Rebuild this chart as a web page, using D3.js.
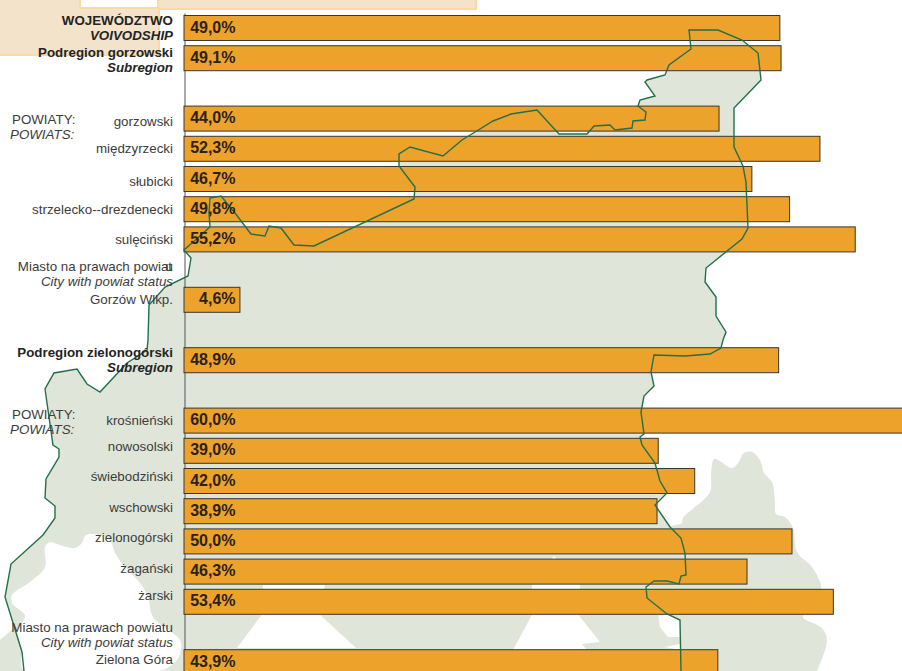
<!DOCTYPE html>
<html>
<head>
<meta charset="utf-8">
<script src="https://cdnjs.cloudflare.com/ajax/libs/d3/7.8.5/d3.min.js"></script>
<style>
html,body{margin:0;padding:0;background:#fff;overflow:hidden}
svg{display:block}
text{font-family:"Liberation Sans",Arial,sans-serif}
</style>
</head>
<body>
<svg id="c" width="902" height="671"></svg>
<script>
// ---- data ----
const rowPositions = [0,1,3,4,5,6,7,9,11,13,14,15,16,17,18,19,21];
const rowValues = [49.0,49.1,44.0,52.3,46.7,49.8,55.2,4.6,48.9,60.0,39.0,42.0,38.9,50.0,46.3,53.4,43.9];
const rowNames = ["WOJEWÓDZTWO","Podregion gorzowski","gorzowski","międzyrzecki","słubicki","strzelecko--drezdenecki","sulęciński","Gorzów Wlkp.","Podregion zielonogórski","krośnieński","nowosolski","świebodziński","wschowski","zielonogórski","żagański","żarski","Zielona Góra"];
const rowNameStyle = ["bold","bold","","","","","","","bold","","","","","","","",""];

// ---- layout of the text labels (baselines) ----
const nameBaselines = [25,57,126,153,186,213.5,244,303.5,357,425,451,481,512,542,573,600,664];
const extraLabels = [
  {t:"VOIVODSHIP",y:40,s:"bolditalic"},
  {t:"Subregion",y:72,s:"bolditalic"},
  {t:"City with powiat status",y:286,s:"italic"},
  {t:"Subregion",y:372,s:"bolditalic"},
  {t:"Miasto na prawach powiatu",y:632,s:""},
  {t:"City with powiat status",y:647,s:"italic"}
];
const sideLabels = [
  {t:"POWIATY:",x:12,y:124,s:""},
  {t:"POWIATS:",x:10,y:139,s:"italic"},
  {t:"POWIATY:",x:12,y:419,s:""},
  {t:"POWIATS:",x:10,y:434,s:"italic"}
];

// ---- background map geometry (traced decoration) ----
const outlineLeft = [[24,671],[22,652],[5,597],[11,564],[43,535],[55,518],[55,506],[45,498],[46,479],[59,457],[59,449],[53,445],[45,389],[54,373],[77,369],[87,384],[100,392],[127,363],[147,350],[148,340],[149,305],[165,287],[188,276],[191,258],[184,250]];
const outlineRight = [[210,227],[209,213],[210,198],[221,196],[235,213],[251,234],[265,236],[269,226],[281,228],[294,245],[314,246],[414,199],[415,187],[399,166],[399,154],[410,147],[443,156],[462,140],[480,129],[493,121],[511,114],[537,110],[559,134],[587,134],[594,126],[610,125],[615,130],[632,128],[633,121],[645,120],[646,112],[638,106],[640,100],[655,96],[645,82],[647,80],[665,75],[669,65],[691,49],[689,30],[718,30],[742,40],[758,53],[761,80],[734,108],[734,147],[743,166],[746,182],[748,228],[742,239],[706,268],[705,282],[716,297],[716,316],[726,332],[723,340],[721,348],[710,354],[685,356],[654,355],[651,372],[654,386],[644,396],[641,412],[644,434],[640,437],[642,445],[655,463],[660,481],[667,493],[655,505],[670,527],[681,538],[685,553],[686,575],[681,576],[679,584],[667,581],[654,581],[646,587],[647,598],[667,614],[680,620],[681,671]];
const outline = outlineLeft.concat(outlineRight);
const rightLobe = [[640,671],[640,560],[670,527],[682,523],[683,518],[710,492],[711,473],[714,459],[718,460],[732,468],[738,463],[744,453],[752,452],[760,460],[764,473],[772,482],[775,500],[776,514],[785,517],[793,528],[797,552],[812,567],[820,582],[821,588],[815,605],[803,617],[822,628],[827,640],[817,671]];
const leftPatch = [[0,640],[14,628],[22,652],[24,671],[0,671]];
const whiteBlob = [[16,630],[25,616],[12,603],[12,595],[30,582],[45,567],[45,547],[50,542],[60,545],[75,548],[82,543],[86,535],[100,535],[110,540],[115,553],[125,567],[140,583],[148,597],[153,617],[180,640],[181,650],[177,660],[160,671],[24,671],[22,652]];
const whiteTriA = [[263,585],[325,585],[318,613],[356,648],[237,648],[263,613]];
const whiteTriB = [[554,556],[580,585],[577,613],[600,642],[582,644],[587,650],[513,650],[533,613],[532,585]];
const whiteSlim = [[658,613],[660,627],[668,637],[680,637],[680,620],[667,614]];
const whiteStrip = [[665,647],[680,644],[680,650]];

const peachTop = [[-3,-3],[80,-3],[80,8],[158,8],[158,-3],[476,-3],[476,9],[159,9],[159,55],[-3,55]];
const whiteBox = [[83,0],[157,0],[157,7],[83,7]];

// ---- scales ----
const x = d3.scaleLinear().domain([0,60]).range([184,184+729.6]);
const y = d3.scaleLinear().domain([0,21]).range([15.5,649.7]);
const barH = 25;
const fmt = d3.formatLocale({decimal:",",thousands:" ",grouping:[3],currency:["","%"]}).format(".1f");
const svg = d3.select("#c");
const poly = d3.line();
const smooth = d3.line().curve(d3.curveCatmullRom.alpha(0.5));
const GREEN_BG="#dfe6d9", PEACH="#f3e3ca", PEACH_B="#fcd9a3", TXT="#3c3c3c", DARK="#242424";

// ---- backdrop ----
svg.append("path").attr("d",poly(peachTop)+"Z").attr("fill",PEACH).attr("stroke",PEACH_B).attr("stroke-width",2);
svg.append("path").attr("d",poly(whiteBox)+"Z").attr("fill","#fff");
svg.append("path").attr("d",smooth(rightLobe)+"Z").attr("fill",GREEN_BG);
svg.append("path").attr("d",poly(outline)+"Z").attr("fill",GREEN_BG);
svg.append("path").attr("d",poly(leftPatch)+"Z").attr("fill",GREEN_BG);
svg.append("path").attr("d",smooth(whiteBlob)+"Z").attr("fill","#fff");
[whiteTriA,whiteTriB,whiteSlim,whiteStrip].forEach(p=>svg.append("path").attr("d",poly(p)+"Z").attr("fill","#fff"));

// ---- axis ----
const axisScale = d3.scaleLinear().domain([0,1]).range([13,671]);
const ax = svg.append("g").attr("transform","translate(184.5,0)").call(d3.axisLeft(axisScale).tickValues([]).tickSize(0));
ax.select(".domain").attr("stroke","#555").attr("stroke-width",1);

// ---- bars ----
const rows = rowValues.map((v,i)=>({v,pos:rowPositions[i],name:rowNames[i],st:rowNameStyle[i],base:nameBaselines[i]}));
svg.append("g").selectAll("rect").data(rows).join("rect")
  .attr("x",x(0)).attr("y",d=>y(d.pos)).attr("width",d=>x(d.v)-x(0)).attr("height",barH)
  .attr("fill","#eda22c").attr("stroke","#3a3630").attr("stroke-width",1);

// ---- map border ----
svg.append("path").attr("d",poly(outline)).attr("fill","none").attr("stroke","#22704a").attr("stroke-width",1.4);

// ---- labels ----
function styleText(sel,s){
  sel.attr("font-weight",s.includes("bold")?"bold":"normal")
     .attr("font-style",s.includes("italic")?"italic":"normal")
     .attr("fill",s.includes("bold")?DARK:TXT)
     .attr("font-size",13.35);
}
svg.append("g").selectAll("text").data(rows).join("text")
  .attr("x",173).attr("y",d=>d.base).attr("text-anchor","end").text(d=>d.name)
  .each(function(d){styleText(d3.select(this),d.st);});
svg.append("g").selectAll("text").data(extraLabels).join("text")
  .attr("x",173).attr("y",d=>d.y).attr("text-anchor","end").text(d=>d.t)
  .each(function(d){styleText(d3.select(this),d.s);});
svg.append("g").selectAll("text").data(sideLabels).join("text")
  .attr("x",d=>d.x).attr("y",d=>d.y).text(d=>d.t)
  .each(function(d){styleText(d3.select(this),d.s);});
// first "Miasto" label: last letter is overprinted on the one before it in the source
const m = svg.append("text").attr("x",173).attr("y",271).attr("text-anchor","end");
styleText(m,"");
m.append("tspan").text("Miasto na prawach powiat");
m.append("tspan").attr("dx",-6.5).text("u");

// ---- value labels ----
svg.append("g").selectAll("text").data(rows).join("text")
  .attr("x",235.5).attr("y",d=>y(d.pos)+17).attr("text-anchor","end")
  .attr("font-size",16).attr("font-weight","bold").attr("fill","#2b2216")
  .text(d=>fmt(d.v)+"%");
</script>
</body>
</html>
